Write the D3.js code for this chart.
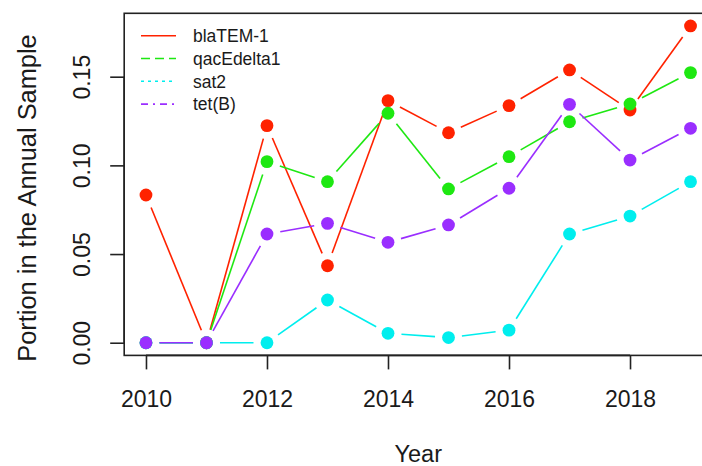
<!DOCTYPE html>
<html>
<head>
<meta charset="utf-8">
<script src="https://cdn.jsdelivr.net/npm/d3@7"></script>
<style>
  html, body { margin: 0; padding: 0; background: #fff; }
  svg { display: block; }
  text { font-family: "Liberation Sans", Arial, Helvetica, sans-serif; fill: #1a1a1a; }
</style>
</head>
<body>
<svg id="chart" width="702" height="466"></svg>
<script>
// Years sampled
const years = [2010, 2011, 2012, 2013, 2014, 2015, 2016, 2017, 2018, 2019];

// Portion of each annual sample carrying the gene
const blaTEM1    = [0.0833, 0, 0.1224, 0.0434, 0.1365, 0.1184, 0.1337, 0.1538, 0.1312, 0.1786];
const qacEdelta1 = [0, 0, 0.1021, 0.0908, 0.1294, 0.0867, 0.1049, 0.1246, 0.1346, 0.1523];
const sat2       = [0, 0, 0, 0.0241, 0.0053, 0.0029, 0.0071, 0.0613, 0.0714, 0.0908];
const tetB       = [0, 0, 0.0613, 0.0673, 0.0566, 0.0664, 0.0871, 0.1344, 0.1030, 0.1209];

const seriesNames = ["blaTEM-1", "qacEdelta1", "sat2", "tet(B)"];
const seriesColors = ["#ff2200", "#1ee812", "#00eeee", "#9a2eff"];

const xTicks = [2010, 2012, 2014, 2016, 2018];
const yTicks = [0.00, 0.05, 0.10, 0.15];

const xLabel = "Year";
const yLabel = "Portion in the Annual Sample";

// ---- layout ----
const svg = d3.select("#chart");
const plot = { left: 124.2, right: 712.3, top: 13.3, bottom: 355.4 };
const dashes = ["none", "9,5", "3,4", "7,5,2,5"];

// R-style 4% padding on both axes
const xMin = d3.min(years), xMax = d3.max(years);
const yMax = d3.max([blaTEM1, qacEdelta1, sat2, tetB].flat());
const xPad = (xMax - xMin) * 0.04, yPad = yMax * 0.04;

const x = d3.scaleLinear().domain([xMin - xPad, xMax + xPad]).range([plot.left, plot.right]);
const y = d3.scaleLinear().domain([0 - yPad, yMax + yPad]).range([plot.bottom, plot.top]);

const series = [blaTEM1, qacEdelta1, sat2, tetB].map((vals, i) => ({
  name: seriesNames[i],
  color: seriesColors[i],
  dash: dashes[i],
  points: years.map((yr, j) => ({ year: yr, value: vals[j] }))
}));

// ---- series: points joined by lines that stop short of each point ----
const gap = 13.5;
const marks = svg.append("g");
series.forEach(s => {
  const g = marks.append("g");
  const segs = d3.pairs(s.points).map(([a, b]) => {
    const x1 = x(a.year), y1 = y(a.value), x2 = x(b.year), y2 = y(b.value);
    const len = Math.hypot(x2 - x1, y2 - y1);
    return { x1, y1, x2, y2, len };
  }).filter(d => d.len > 2 * gap);
  g.selectAll("line").data(segs).join("line")
    .attr("x1", d => d.x1 + (d.x2 - d.x1) * gap / d.len)
    .attr("y1", d => d.y1 + (d.y2 - d.y1) * gap / d.len)
    .attr("x2", d => d.x2 - (d.x2 - d.x1) * gap / d.len)
    .attr("y2", d => d.y2 - (d.y2 - d.y1) * gap / d.len)
    .attr("stroke", s.color)
    .attr("stroke-width", 1.6);
  g.selectAll("circle").data(s.points).join("circle")
    .attr("cx", d => x(d.year))
    .attr("cy", d => y(d.value))
    .attr("r", 6.4)
    .attr("fill", s.color);
});

// ---- frame ----
svg.append("rect")
  .attr("x", plot.left).attr("y", plot.top)
  .attr("width", plot.right - plot.left).attr("height", plot.bottom - plot.top)
  .attr("fill", "none").attr("stroke", "#222").attr("stroke-width", 1.6);

// ---- axes ----
const xAxis = svg.append("g")
  .attr("transform", `translate(0,${plot.bottom})`)
  .call(d3.axisBottom(x).tickValues(xTicks).tickFormat(d3.format("d")).tickSize(14).tickPadding(18));
const yAxis = svg.append("g")
  .attr("transform", `translate(${plot.left},0)`)
  .call(d3.axisLeft(y).tickValues(yTicks).tickFormat(d3.format(".2f")).tickSize(14).tickPadding(20));

[xAxis, yAxis].forEach(ax => {
  ax.select(".domain").attr("stroke", "#222").attr("stroke-width", 1.6);
  ax.selectAll(".tick line").attr("stroke", "#222").attr("stroke-width", 1.6);
  ax.selectAll("text").attr("fill", "#1a1a1a").attr("font-size", 23)
    .attr("font-family", '"Liberation Sans", Arial, sans-serif');
});
// the domain path should span only the tick range, like base graphics
xAxis.select(".domain").attr("d", `M${x(xTicks[0])},0H${x(xTicks[xTicks.length - 1])}`);
yAxis.select(".domain").attr("d", `M0,${y(yTicks[0])}V${y(yTicks[yTicks.length - 1])}`);

xAxis.selectAll(".tick text").attr("dy", null).attr("y", 52);
// y tick labels run parallel to the axis
yAxis.selectAll(".tick text")
  .attr("x", null).attr("dy", null)
  .attr("transform", "translate(-34,0) rotate(-90)")
  .attr("text-anchor", "middle").attr("y", 0);

// ---- axis titles ----
svg.append("text")
  .attr("x", (plot.left + plot.right) / 2).attr("y", 461.5)
  .attr("text-anchor", "middle").attr("font-size", 23.5)
  .text(xLabel);
svg.append("text")
  .attr("transform", `translate(36,198) rotate(-90)`)
  .attr("text-anchor", "middle").attr("font-size", 25.4)
  .text(yLabel);

// ---- legend ----
const legend = svg.append("g").attr("transform", "translate(141,35.7)");
const rows = legend.selectAll("g").data(series).join("g")
  .attr("transform", (d, i) => `translate(0,${i * 22.8})`);
rows.append("line")
  .attr("x1", 0).attr("x2", 35).attr("y1", 0).attr("y2", 0)
  .attr("stroke", d => d.color).attr("stroke-width", 1.6)
  .attr("stroke-dasharray", d => d.dash);
rows.append("text")
  .attr("x", 52).attr("y", 6.2)
  .attr("font-size", 17.5)
  .text(d => d.name);
</script>
</body>
</html>
